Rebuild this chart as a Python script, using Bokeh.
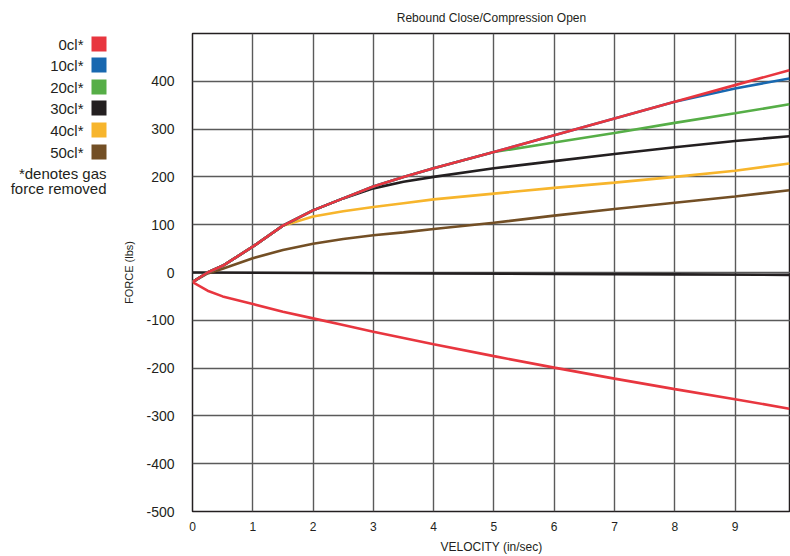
from bokeh.plotting import figure
from bokeh.layouts import row
from bokeh.models import FixedTicker, Range1d
from bokeh.core.properties import value
from bokeh.embed import file_html
from bokeh.resources import INLINE

FONT = "Liberation Sans"

# ---- data ----
series_names = ["0cl*", "10cl*", "20cl*", "30cl*", "40cl*", "50cl*"]
series_colors = ["#E8363F", "#1868B0", "#56AE47", "#231F20", "#F7B52C", "#734F25"]

vel = [0, 0.25, 0.5, 1, 1.5, 2, 2.5, 3, 3.5, 4, 5, 6, 7, 8, 9, 9.9]

rebound_0cl = [-20, 0, 14, 54, 98, 130, 155, 180, 200, 218, 252, 287, 322, 357, 392, 423]
rebound_10cl = [-20, 0, 14, 54, 98, 130, 155, 180, 200, 218, 252, 287, 322, 357, 385, 406]
rebound_20cl = [-20, 0, 14, 54, 98, 130, 155, 180, 200, 218, 252, 272, 292, 313, 333, 352]
rebound_30cl = [-20, 0, 14, 54, 98, 130, 155, 176, 190, 200, 218, 233, 248, 262, 275, 285]
rebound_40cl = [-20, 0, 14, 54, 98, 117, 128, 137, 145, 153, 165, 177, 188, 200, 213, 228]
rebound_50cl = [-20, -2, 8, 30, 47, 60, 70, 78, 84, 91, 104, 119, 133, 146, 159, 172]

compression_0cl = [-20, -38, -50, -66, -82, -96, -110, -124, -137, -150, -175, -199, -222, -244, -265, -285]
vel_near_zero = [0, 2, 4, 6, 8, 9.9]
compression_black = [0, -1, -2, -3, -4, -5]

x_ticks = [0, 1, 2, 3, 4, 5, 6, 7, 8, 9]
y_ticks = [-500, -400, -300, -200, -100, 0, 100, 200, 300, 400]
y_tick_labels = ["-500", "-400", "-300", "-200", "-100", "0", "100", "200", "300", "400"]
grid_y = [-500, -400, -300, -200, -100, 0, 100, 200, 300, 400, 500]

title_text = "Rebound Close/Compression Open"
x_label = "VELOCITY (in/sec)"
y_label = "FORCE (lbs)"
note_lines = ["*denotes gas", "force removed"]

# ---- legend panel (its frame is aligned with the chart frame: y 33..511) ----
H = 556
LW = 110
leg = figure(width=LW, height=H, output_backend="svg", toolbar_location=None,
             x_range=Range1d(0, LW), y_range=Range1d(511, 33),
             min_border=0, outline_line_color=None)
leg.axis.visible = False
leg.grid.visible = False

row_y = [43.5, 64.5, 86.5, 107.5, 129.5, 151.5]
leg.rect(x=[98.5] * 6, y=row_y, width=15, height=15, fill_color=series_colors,
         line_color=None)
leg.text(x=[83] * 6, y=row_y, text=series_names, text_align="right",
         text_baseline="middle", text_font=value(FONT), text_font_size="15px",
         text_color="#231F20")
leg.text(x=[106, 106], y=[173, 188], text=note_lines, text_align="right",
         text_baseline="middle", text_font=value(FONT), text_font_size="15px",
         text_color="#231F20")

# ---- main chart ----
p = figure(frame_width=598, frame_height=478, output_backend="svg",
           toolbar_location=None,
           x_range=Range1d(0, 9.92), y_range=Range1d(-500, 500),
           min_border_left=82, min_border_right=0, min_border_top=33,
           min_border_bottom=45)
p.title.text = title_text
p.title.align = "center"
p.title.vertical_align = "top"
p.title.text_font = FONT
p.title.text_font_size = "12px"
p.title.text_font_style = "normal"
p.title.text_color = "#231F20"
p.title.text_line_height = 1.25
p.title.standoff = 14

p.outline_line_color = "#231F20"
p.outline_line_width = 1.5

p.xaxis.ticker = FixedTicker(ticks=x_ticks)
p.yaxis.ticker = FixedTicker(ticks=y_ticks)
p.yaxis.major_label_overrides = dict(zip(y_ticks, y_tick_labels))
p.xgrid.ticker = FixedTicker(ticks=x_ticks)
p.ygrid.ticker = FixedTicker(ticks=grid_y)
for g in (p.xgrid, p.ygrid):
    g.grid_line_color = "#5a5a5a"
    g.grid_line_width = 1.4

for ax in (p.xaxis, p.yaxis):
    ax.axis_line_color = None
    ax.major_tick_line_color = None
    ax.minor_tick_line_color = None
    ax.major_tick_out = 0
    ax.major_tick_in = 0
    ax.minor_tick_out = 0
    ax.minor_tick_in = 0
    ax.major_label_text_font = FONT
    ax.major_label_text_color = "#231F20"
    ax.axis_label_text_font = FONT
    ax.axis_label_text_font_style = "normal"
    ax.axis_label_text_color = "#231F20"

p.xaxis.axis_label = x_label
p.xaxis.major_label_text_font_size = "12px"
p.xaxis.axis_label_text_font_size = "12px"
p.xaxis.major_label_standoff = 10
p.xaxis.axis_label_standoff = 6

p.yaxis.axis_label = y_label
p.yaxis.major_label_text_font_size = "14px"
p.yaxis.axis_label_text_font_size = "11px"
p.yaxis.major_label_standoff = 18
p.yaxis.axis_label_standoff = 8

lw = 2.6
p.line(vel_near_zero, compression_black, line_color=series_colors[3], line_width=lw)
p.line(vel, rebound_50cl, line_color=series_colors[5], line_width=lw)
p.line(vel, rebound_40cl, line_color=series_colors[4], line_width=lw)
p.line(vel, rebound_30cl, line_color=series_colors[3], line_width=lw)
p.line(vel, rebound_20cl, line_color=series_colors[2], line_width=lw)
p.line(vel, rebound_10cl, line_color=series_colors[1], line_width=lw)
p.line(vel, rebound_0cl, line_color=series_colors[0], line_width=lw)
p.line(vel, compression_0cl, line_color=series_colors[0], line_width=lw)

layout = row(leg, p)
open("out.html", "w").write(file_html(layout, INLINE))
